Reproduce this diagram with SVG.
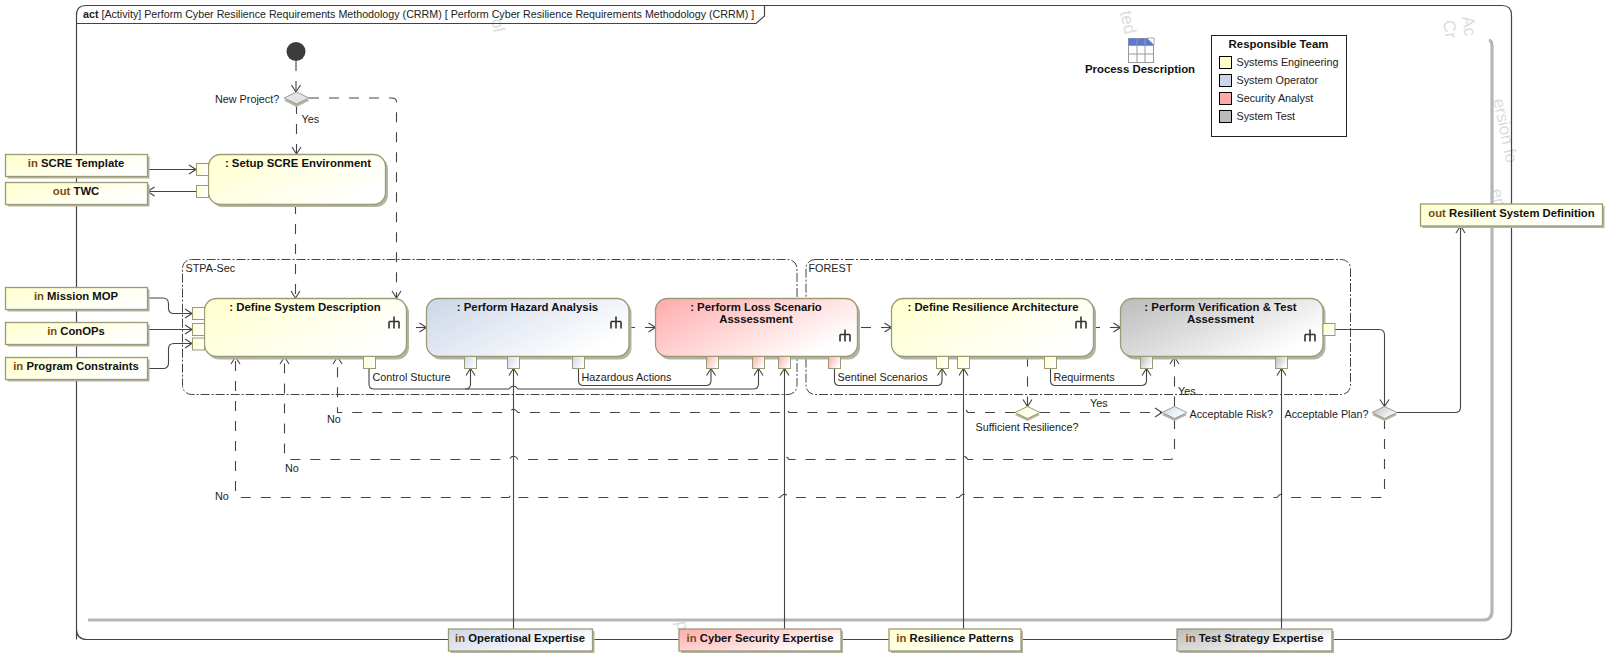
<svg xmlns="http://www.w3.org/2000/svg" width="1607" height="655" viewBox="0 0 1607 655">
<style>
text{font-family:"Liberation Sans",Arial,sans-serif;font-size:10.8px;fill:#222}
.t{font-weight:bold;font-size:11.4px;fill:#111;text-anchor:middle}
.p{font-weight:bold;font-size:11.3px;fill:#111;text-anchor:middle}
.k{fill:#7a4a10;font-weight:bold}
.act{stroke:#9a9a74;stroke-width:1.3}
.sh{fill:#b4b4a6}
.pin{stroke:#9a9a74;stroke-width:1}
.c{fill:none;stroke:#444;stroke-width:1.1}
.d{fill:none;stroke:#444;stroke-width:1.1;stroke-dasharray:10 10}
.a{marker-end:url(#v)}
.g{fill:none;stroke:#444;stroke-width:1;stroke-dasharray:9 2 2 2}
.wm{fill:#dcdcdc;font-size:17px}
.sw{stroke:#000;stroke-width:1}
</style>
<defs>
<marker id="v" markerUnits="userSpaceOnUse" markerWidth="12" markerHeight="12" refX="10" refY="6" orient="auto"><path d="M3 1.500 L10 6 L3 10.500" fill="none" stroke="#444" stroke-width="1.1"/></marker>
<linearGradient id="y" x1="0" y1="0" x2="1" y2="0.6"><stop offset="0" stop-color="#ffffcc"/><stop offset="1" stop-color="#fff"/></linearGradient>
<linearGradient id="b" x1="0" y1="0" x2="1" y2="0.6"><stop offset="0" stop-color="#ccd6e8"/><stop offset="1" stop-color="#fff"/></linearGradient>
<linearGradient id="r" x1="0" y1="0" x2="1" y2="0.6"><stop offset="0" stop-color="#ffaaaa"/><stop offset="1" stop-color="#fff"/></linearGradient>
<linearGradient id="s" x1="0" y1="0" x2="1" y2="0.6"><stop offset="0" stop-color="#bbb"/><stop offset="1" stop-color="#fff"/></linearGradient>
<g id="icon"><path d="M0 -6V6M-5 -1H5M-5 -1V6M5 -1V6" fill="none" stroke="#333" stroke-width="1.6"/></g>
</defs>

<g id="watermark">
<text class="wm" transform="translate(1120,12) rotate(78)">ted</text>
<text class="wm" transform="translate(1462,17) rotate(82)">Ac</text>
<text class="wm" transform="translate(1443,21) rotate(82)">Cr</text>
<text class="wm" transform="translate(1493,100) rotate(78)">ersion fo</text>
<text class="wm" transform="translate(1491,190) rotate(78)">eme</text>
<text class="wm" transform="translate(491,20) rotate(78)">ol</text>
<text class="wm" transform="translate(676,622) rotate(78)">pl</text>
</g>

<g id="frame">
<path d="M76.500 639.500V15Q76.500 5.500 86 5.500H1502Q1511.500 5.500 1511.500 15V629Q1511.500 639.500 1501 639.500H87Q76.500 639.500 76.500 629Z" fill="none" stroke="#444" stroke-width="1.2"/>
<path d="M76.500 23.500H756L764.500 16V5.500" fill="none" stroke="#444" stroke-width="1.2"/>
<text x="83" y="18" style="font-size:10.7px"><tspan font-weight="bold">act</tspan> [Activity] Perform Cyber Resilience Requirements Methodology (CRRM) [ Perform Cyber Resilience Requirements Methodology (CRRM) ]</text>
<path d="M88 620H1483Q1492 620 1492 611V46Q1492 41 1489 40" fill="none" stroke="#b6b6b6" stroke-width="3.200"/>
</g>

<g id="group-stpa"><rect x="182.500" y="259.500" width="614.500" height="135" rx="9" class="g"/><text x="185.500" y="272">STPA-Sec</text></g>
<g id="group-forest"><rect x="806" y="259.500" width="544.500" height="135" rx="9" class="g"/><text x="808.500" y="272">FOREST</text></g>

<g id="connectors">
<path class="d a" d="M296 61V92"/>
<path class="d a" d="M296.500 104V154"/>
<path class="d a" d="M309 98H392Q396.500 98 396.500 102V298"/>
<path class="d a" d="M295.500 204V298"/>
<path class="c a" d="M147.500 169.500H196"/>
<path class="c a" d="M196 191.500H147.500"/>
<path class="c a" d="M147.500 298H163Q168.500 298 168.500 304V308Q168.500 313.500 174 313.500H192"/>
<path class="c a" d="M147.500 329.500H192"/>
<path class="c a" d="M147.500 368.500H163Q168.500 368.500 168.500 363V349Q168.500 343.500 174 343.500H192"/>
<path class="c a" d="M416 327.500H426.500"/>
<path class="c" d="M629 327.500H635"/><path class="c a" d="M645 327.500H655.500"/>
<path class="c" d="M861 327.500H871"/><path class="c a" d="M881 327.500H891.500"/>
<path class="c" d="M1094 327.500H1100"/><path class="c a" d="M1110 327.500H1120.500"/>
<path class="c a" d="M369 368.500V384Q369 389 374 389H465.500Q470.500 389 470.500 384V368.500"/>
<path class="c a" d="M465 389H509Q513.500 383 518 389H753Q758.500 389 758.500 384V368.500"/>
<path class="c a" d="M578.500 368.500V380.500Q578.500 385.500 583.500 385.500H706Q711 385.500 711 380.500V368.500"/>
<path class="c a" d="M834.500 368.500V380.500Q834.500 385.500 839.500 385.500H937Q942 385.500 942 380.500V368.500"/>
<path class="c a" d="M1050.500 368.500V380.500Q1050.500 385.500 1055.500 385.500H1141Q1146.500 385.500 1146.500 380.500V368.500"/>
<path class="c a" d="M513.500 629V368.500"/>
<path class="c a" d="M784.500 629V368.500"/>
<path class="c a" d="M963.500 629V368.500"/>
<path class="c a" d="M1281.500 629V368.500"/>
<path class="d a" d="M1027.500 356.500V406.500"/>
<path class="d a" d="M1040 412.500H1162"/>
<path class="d a" d="M1174.500 406.500V357"/>
<path class="d a" d="M1015 412.500H968Q963.500 406 959 412.500H789Q784.500 406 780 412.500H518Q513.500 406 509 412.500H337.500V357"/>
<path class="d a" d="M1174.500 419V455Q1174.500 459.500 1170 459.500H968Q963.500 453 959 459.500H789Q784.500 453 780 459.500H518Q513.500 453 509 459.500H289Q284.500 459.500 284.500 455V357"/>
<path class="d a" d="M1384.500 419V493Q1384.500 497.500 1380 497.500H1286Q1281.500 491 1277 497.500H968Q963.500 491 959 497.500H789Q784.500 491 780 497.500H518Q513.500 491 509 497.500H240Q235.500 497.500 235.500 493V357"/>
<path class="c a" d="M1335 329.500H1379Q1384.500 329.500 1384.500 335V406.500"/>
<path class="c a" d="M1397 412.500H1455Q1460.500 412.500 1460.500 407V226"/>
</g>

<g id="start"><circle cx="296" cy="51.500" r="9.500" fill="#3c3c3c"/></g>

<g id="dec-new-project"><path d="M296.500 94L309.500 100.500L296.500 107L284 100.500Z" class="sh"/><path d="M296.500 92L309 98L296.500 104L284 98Z" fill="#e4e4e4" stroke="#9a9a9a"/><text x="215" y="102.500">New Project?</text><text x="301.500" y="123">Yes</text></g>
<g id="dec-sufficient"><path d="M1027.500 409L1040 415L1027.500 421L1015 415Z" class="sh"/><path d="M1027.500 406.500L1040 412.500L1027.500 418.500L1015 412.500Z" fill="url(#y)" stroke="#9a9a74"/><text x="975.500" y="431">Sufficient Resilience?</text><text x="1090" y="407">Yes</text></g>
<g id="dec-risk"><path d="M1174.500 409L1187 415L1174.500 421L1162 415Z" class="sh"/><path d="M1174.500 406.500L1187 412.500L1174.500 418.500L1162 412.500Z" fill="url(#b)" stroke="#9a9aa0"/><text x="1189.500" y="418">Acceptable Risk?</text><text x="1178" y="395">Yes</text></g>
<g id="dec-plan"><path d="M1384.500 409L1397 415L1384.500 421L1372 415Z" class="sh"/><path d="M1384.500 406.500L1397 412.500L1384.500 418.500L1372 412.500Z" fill="url(#s)" stroke="#999"/><text x="1284.500" y="418">Acceptable Plan?</text></g>

<g id="labels">
<text x="372.500" y="381">Control Stucture</text>
<text x="581.500" y="381">Hazardous Actions</text>
<text x="837.500" y="381">Sentinel Scenarios</text>
<text x="1053.500" y="381">Requirments</text>
<text x="327" y="423">No</text>
<text x="285" y="472">No</text>
<text x="215" y="500">No</text>
</g>

<g id="setup"><rect x="211" y="157" width="177" height="50" rx="12" class="sh"/><rect x="208.500" y="154.500" width="177" height="50" rx="12" fill="url(#y)" class="act"/><rect x="196.500" y="163.500" width="12" height="12" fill="url(#y)" class="pin"/><rect x="196.500" y="185.500" width="12" height="12" fill="url(#y)" class="pin"/><text x="298" y="166.800" class="t">: Setup SCRE Environment</text></g>

<g id="define"><rect x="207" y="301" width="202" height="58.500" rx="12" class="sh"/><rect x="204.500" y="298.500" width="202" height="58" rx="12" fill="url(#y)" class="act"/><rect x="192.500" y="307.500" width="12" height="12" fill="url(#y)" class="pin"/><rect x="192.500" y="323.500" width="12" height="12" fill="url(#y)" class="pin"/><rect x="192.500" y="338" width="12" height="12" fill="url(#y)" class="pin"/><rect x="363.500" y="356.500" width="12" height="12" fill="url(#y)" class="pin"/><text x="305" y="310.800" class="t">: Define System Description</text><use href="#icon" x="394" y="322.500"/></g>

<g id="hazard"><rect x="429" y="301" width="202.500" height="58.500" rx="12" class="sh"/><rect x="426.500" y="298.500" width="202.500" height="58" rx="12" fill="url(#b)" class="act"/><rect x="464.500" y="356.500" width="12" height="12" fill="url(#b)" class="pin"/><rect x="507.500" y="356.500" width="12" height="12" fill="url(#b)" class="pin"/><rect x="572.500" y="356.500" width="12" height="12" fill="url(#b)" class="pin"/><text x="527.500" y="310.800" class="t">: Perform Hazard Analysis</text><use href="#icon" x="616" y="322.500"/></g>

<g id="loss"><rect x="658" y="301" width="202" height="58.500" rx="12" class="sh"/><rect x="655.500" y="298.500" width="202" height="58" rx="12" fill="url(#r)" class="act"/><rect x="706.500" y="356.500" width="12" height="12" fill="url(#r)" class="pin"/><rect x="752.500" y="356.500" width="12" height="12" fill="url(#r)" class="pin"/><rect x="778.500" y="356.500" width="12" height="12" fill="url(#r)" class="pin"/><rect x="828.500" y="356.500" width="12" height="12" fill="url(#r)" class="pin"/><text x="756" y="310.800" class="t">: Perform Loss Scenario</text><text x="756" y="322.800" class="t">Asssessment</text><use href="#icon" x="845" y="335.500"/></g>

<g id="arch"><rect x="894" y="301" width="202" height="58.500" rx="12" class="sh"/><rect x="891.500" y="298.500" width="202" height="58" rx="12" fill="url(#y)" class="act"/><rect x="936.500" y="356.500" width="12" height="12" fill="url(#y)" class="pin"/><rect x="957.500" y="356.500" width="12" height="12" fill="url(#y)" class="pin"/><rect x="1044.500" y="356.500" width="12" height="12" fill="url(#y)" class="pin"/><text x="993" y="310.800" class="t">: Define Resilience Architecture</text><use href="#icon" x="1081" y="322.500"/></g>

<g id="verif"><rect x="1123" y="301" width="202.500" height="58.500" rx="12" class="sh"/><rect x="1120.500" y="298.500" width="202.500" height="58" rx="12" fill="url(#s)" class="act"/><rect x="1140.500" y="356.500" width="12" height="12" fill="url(#s)" class="pin"/><rect x="1275.500" y="356.500" width="12" height="12" fill="url(#s)" class="pin"/><rect x="1323" y="323.500" width="12" height="12" fill="url(#y)" class="pin"/><text x="1220.500" y="310.800" class="t">: Perform Verification &amp; Test</text><text x="1220.500" y="322.800" class="t">Assessment</text><use href="#icon" x="1310" y="335.500"/></g>

<g id="p-scre"><rect x="7.500" y="156.500" width="142" height="22" class="sh"/><rect x="5.500" y="154.500" width="142" height="22" fill="url(#y)" class="act"/><text x="76" y="167" class="p"><tspan class="k">in</tspan> SCRE Template</text></g>
<g id="p-twc"><rect x="7.500" y="184.500" width="142" height="22" class="sh"/><rect x="5.500" y="182.500" width="142" height="22" fill="url(#y)" class="act"/><text x="76" y="195" class="p"><tspan class="k">out</tspan> TWC</text></g>
<g id="p-mission"><rect x="7.500" y="289.500" width="142" height="22" class="sh"/><rect x="5.500" y="287.500" width="142" height="22" fill="url(#y)" class="act"/><text x="76" y="300" class="p"><tspan class="k">in</tspan> Mission MOP</text></g>
<g id="p-conops"><rect x="7.500" y="324.500" width="142" height="22" class="sh"/><rect x="5.500" y="322.500" width="142" height="22" fill="url(#y)" class="act"/><text x="76" y="335" class="p"><tspan class="k">in</tspan> ConOPs</text></g>
<g id="p-constraints"><rect x="7.500" y="359.500" width="142" height="22" class="sh"/><rect x="5.500" y="357.500" width="142" height="22" fill="url(#y)" class="act"/><text x="76" y="370" class="p"><tspan class="k">in</tspan> Program Constraints</text></g>
<g id="p-resilient"><rect x="1422.500" y="206" width="182" height="22" class="sh"/><rect x="1420.500" y="204" width="182" height="22" fill="url(#y)" class="act"/><text x="1511.500" y="216.500" class="p"><tspan class="k">out</tspan> Resilient System Definition</text></g>
<g id="p-operational"><rect x="450.500" y="631" width="144" height="22" class="sh"/><rect x="448.500" y="629" width="144" height="22" fill="url(#b)" class="act"/><text x="520" y="641.500" class="p"><tspan class="k">in</tspan> Operational Expertise</text></g>
<g id="p-cyber"><rect x="681" y="631" width="162" height="22" class="sh"/><rect x="679" y="629" width="162" height="22" fill="url(#r)" class="act"/><text x="760" y="641.500" class="p"><tspan class="k">in</tspan> Cyber Security Expertise</text></g>
<g id="p-patterns"><rect x="891" y="631" width="132" height="22" class="sh"/><rect x="889" y="629" width="132" height="22" fill="url(#y)" class="act"/><text x="955" y="641.500" class="p"><tspan class="k">in</tspan> Resilience Patterns</text></g>
<g id="p-strategy"><rect x="1179" y="631" width="155" height="22" class="sh"/><rect x="1177" y="629" width="155" height="22" fill="url(#s)" class="act"/><text x="1254.500" y="641.500" class="p"><tspan class="k">in</tspan> Test Strategy Expertise</text></g>

<g id="process-description">
<rect x="1128.500" y="38.500" width="25" height="24" fill="#fff" stroke="#999"/>
<rect x="1128.500" y="38.500" width="25" height="7" fill="#5b79d0"/>
<path d="M1128.500 45.500H1153.500M1128.500 54H1153.500M1137 38.500V62.500M1145 38.500V62.500" stroke="#999" fill="none"/>
<path d="M1147 38L1154 38V45Z" fill="#fff" stroke="#aaa"/>
<text x="1140" y="72.500" class="t">Process Description</text>
</g>

<g id="legend">
<rect x="1211.500" y="35.500" width="135" height="101" fill="#fff" stroke="#222"/>
<text x="1278.500" y="47.500" class="t">Responsible Team</text>
<rect x="1219.500" y="56.500" width="12" height="12" fill="#ffffcc" class="sw"/><text x="1236.500" y="66">Systems Engineering</text>
<rect x="1219.500" y="74.500" width="12" height="12" fill="#ccd6e8" class="sw"/><text x="1236.500" y="84">System Operator</text>
<rect x="1219.500" y="92.500" width="12" height="12" fill="#ffaaaa" class="sw"/><text x="1236.500" y="102">Security Analyst</text>
<rect x="1219.500" y="110.500" width="12" height="12" fill="#bbb" class="sw"/><text x="1236.500" y="120">System Test</text>
</g>
</svg>
